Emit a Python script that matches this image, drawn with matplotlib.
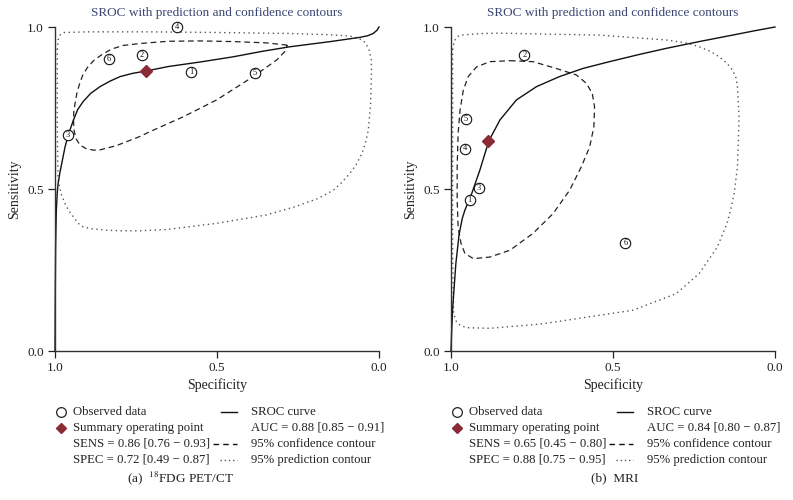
import matplotlib
matplotlib.use("Agg")
import matplotlib.pyplot as plt
from matplotlib.lines import Line2D

plt.rcParams["font.family"] = ["Liberation Serif", "DejaVu Serif"]
plt.rcParams["mathtext.fontset"] = "stix"

# -----------------------------
# Panel (a) 18FDG PET/CT
# -----------------------------
a_study = ["1", "2", "3", "4", "5", "6"]
a_obs_spec = [0.580, 0.731, 0.960, 0.623, 0.383, 0.833]
a_obs_sens = [0.861, 0.914, 0.667, 1.000, 0.858, 0.901]
a_sum_spec = [0.72]
a_sum_sens = [0.864]

a_sroc_spec = [1.0, 0.999, 0.998, 0.996, 0.993, 0.990, 0.985, 0.977, 0.969, 0.959,
               0.950, 0.943, 0.930, 0.913, 0.890, 0.861, 0.830, 0.799, 0.760, 0.72,
               0.65, 0.552, 0.45, 0.36, 0.275, 0.15, 0.059, 0.035, 0.018, 0.006, 0.0]
a_sroc_sens = [0.0, 0.20, 0.33, 0.43, 0.49, 0.52, 0.55, 0.59, 0.63, 0.667,
               0.693, 0.713, 0.745, 0.77, 0.795, 0.816, 0.833, 0.847, 0.857, 0.864,
               0.878, 0.892, 0.908, 0.925, 0.939, 0.955, 0.968, 0.973, 0.980, 0.99, 1.0]

a_conf_spec = [0.283, 0.347, 0.45, 0.552, 0.65, 0.738, 0.79, 0.825, 0.855, 0.880, 0.900,
               0.915, 0.925, 0.933, 0.938, 0.942, 0.943, 0.941, 0.935, 0.923, 0.905,
               0.882, 0.86, 0.81, 0.738, 0.707, 0.604, 0.501, 0.388, 0.316, 0.29, 0.283]
a_conf_sens = [0.944, 0.951, 0.955, 0.957, 0.956, 0.949, 0.943, 0.932, 0.915, 0.897, 0.875,
               0.850, 0.822, 0.793, 0.765, 0.738, 0.713, 0.68, 0.655, 0.636, 0.625,
               0.620, 0.621, 0.634, 0.662, 0.677, 0.723, 0.775, 0.847, 0.898, 0.925, 0.944]

a_pred_spec = [0.993, 0.990, 0.983, 0.972, 0.9, 0.7, 0.5, 0.275, 0.15, 0.09, 0.062, 0.042,
               0.03, 0.024, 0.023, 0.026, 0.033, 0.042, 0.053, 0.07, 0.09, 0.115, 0.141,
               0.19, 0.26, 0.347, 0.501, 0.655, 0.738, 0.80, 0.841, 0.885, 0.913, 0.930,
               0.943, 0.958, 0.969, 0.980, 0.986, 0.991, 0.993, 0.993]
a_pred_sens = [0.93, 0.962, 0.977, 0.983, 0.985, 0.985, 0.983, 0.98, 0.976, 0.972, 0.965,
               0.952, 0.928, 0.90, 0.866, 0.763, 0.681, 0.642, 0.609, 0.576, 0.548, 0.52,
               0.496, 0.47, 0.445, 0.42, 0.394, 0.375, 0.371, 0.371, 0.373, 0.377, 0.383,
               0.395, 0.414, 0.434, 0.455, 0.482, 0.507, 0.54, 0.70, 0.93]

# -----------------------------
# Panel (b) MRI
# -----------------------------
b_study = ["1", "2", "3", "4", "5", "6"]
b_obs_spec = [0.942, 0.774, 0.915, 0.957, 0.954, 0.462]
b_obs_sens = [0.466, 0.913, 0.502, 0.625, 0.716, 0.334]
b_sum_spec = [0.885]
b_sum_sens = [0.648]

b_sroc_spec = [1.0, 0.998, 0.995, 0.990, 0.985, 0.975, 0.965, 0.957, 0.936, 0.911,
               0.883, 0.849, 0.798, 0.736, 0.665, 0.593, 0.511, 0.42, 0.336, 0.234,
               0.131, 0.065, 0.0]
b_sroc_sens = [0.0, 0.06, 0.13, 0.20, 0.27, 0.36, 0.41, 0.435, 0.486, 0.558,
               0.649, 0.713, 0.775, 0.816, 0.847, 0.872, 0.893, 0.915, 0.934, 0.955,
               0.975, 0.988, 1.0]

b_conf_spec = [0.818, 0.747, 0.675, 0.613, 0.582, 0.564, 0.557, 0.559, 0.572, 0.598,
               0.634, 0.685, 0.747, 0.818, 0.88, 0.931, 0.957, 0.969, 0.978, 0.981,
               0.981, 0.978, 0.972, 0.962, 0.947, 0.921, 0.88, 0.818]
b_conf_sens = [0.896, 0.893, 0.872, 0.852, 0.826, 0.795, 0.754, 0.692, 0.630, 0.568,
               0.496, 0.424, 0.363, 0.311, 0.29, 0.285, 0.301, 0.332, 0.383, 0.466,
               0.568, 0.672, 0.744, 0.805, 0.847, 0.877, 0.893, 0.896]

b_pred_spec = [0.995, 0.99, 0.983, 0.972, 0.9, 0.849, 0.7, 0.542, 0.336, 0.27, 0.234,
               0.2, 0.172, 0.148, 0.131, 0.120, 0.116, 0.111, 0.113, 0.116, 0.126,
               0.136, 0.148, 0.178, 0.234, 0.305, 0.438, 0.643, 0.726, 0.798, 0.88,
               0.951, 0.970, 0.983, 0.992, 0.995, 0.995, 0.995]
b_pred_sens = [0.93, 0.955, 0.968, 0.975, 0.98, 0.981, 0.978, 0.975, 0.96, 0.95, 0.939,
               0.925, 0.908, 0.888, 0.867, 0.842, 0.816, 0.723, 0.65, 0.568, 0.486,
               0.44, 0.394, 0.321, 0.239, 0.177, 0.126, 0.095, 0.083, 0.077, 0.07,
               0.072, 0.078, 0.09, 0.116, 0.3, 0.6, 0.93]

# legend texts
a_legend = ["SENS = 0.86 [0.76 \u2212 0.93]", "SPEC = 0.72 [0.49 \u2212 0.87]",
            "AUC = 0.88 [0.85 \u2212 0.91]"]
b_legend = ["SENS = 0.65 [0.45 \u2212 0.80]", "SPEC = 0.88 [0.75 \u2212 0.95]",
            "AUC = 0.84 [0.80 \u2212 0.87]"]

TITLE = "SROC with prediction and confidence contours"
TITLE_COLOR = "#3b4672"
SUM_COLOR = "#8a2c36"
DOT_COLOR = "#555555"

W, H = 793, 500
fig = plt.figure(figsize=(W / 100, H / 100), dpi=100)


def fx(px):
    return px / W


def fy(py):
    return 1 - py / H


def draw_panel(left_px, study, obs_spec, obs_sens, sum_spec, sum_sens,
               sroc_spec, sroc_sens, conf_spec, conf_sens, pred_spec, pred_sens,
               legend, caption, caption_x):
    ax = fig.add_axes([fx(left_px), fy(351), 324 / W, 324 / H])
    ax.set_xlim(1, 0)
    ax.set_ylim(0, 1)
    ax.patch.set_alpha(0)
    for s in ["top", "right"]:
        ax.spines[s].set_visible(False)
    for s in ["left", "bottom"]:
        ax.spines[s].set_color("#333333")
        ax.spines[s].set_linewidth(1.0)
    ax.set_xticks([1.0, 0.5, 0.0])
    ax.set_yticks([0.0, 0.5, 1.0])
    ax.set_xticklabels(["1.0", "0.5", "0.0"])
    ax.set_yticklabels(["0.0", "0.5", "1.0"])
    ax.tick_params(direction="out", length=5, width=0.9, labelsize=9.5,
                   colors="#222222", pad=3)

    ax.plot(pred_spec, pred_sens, color=DOT_COLOR, lw=1.0, dashes=(1, 2.5),
            clip_on=False)
    ax.plot(conf_spec, conf_sens, color="#222222", lw=0.9, dashes=(4.5, 3),
            clip_on=False)
    ax.plot(sroc_spec, sroc_sens, color="#111111", lw=1.0, clip_on=False)

    ax.plot(obs_spec, obs_sens, linestyle="none", marker="o", markersize=7.5,
            markerfacecolor="white", markeredgecolor="#111111",
            markeredgewidth=0.8, clip_on=False, zorder=4)
    for lab, x, y in zip(study, obs_spec, obs_sens):
        ax.text(x, y, lab, ha="center", va="center", fontsize=6,
                color="#111111", zorder=5)
    ax.plot(sum_spec, sum_sens, linestyle="none", marker="D", markersize=6,
            color=SUM_COLOR, zorder=6, clip_on=False)

    ax.set_xlabel("Specificity", fontsize=10, color="#222222")
    ax.set_ylabel("Sensitivity", fontsize=10, color="#222222")
    ax.xaxis.set_label_coords(0.5, -0.085)
    ax.yaxis.set_label_coords(-0.105, 0.5)

    cx = left_px + 162
    fig.text(fx(cx), fy(13), TITLE, ha="center", va="center", fontsize=9.5,
             color=TITLE_COLOR)

    # legend block
    mx = left_px + 6
    tx = left_px + 18
    lx0, lx1 = left_px + 162, left_px + 182
    rx = left_px + 196
    rows = [412, 428, 444, 460]
    fs = 9.2
    fig.add_artist(Line2D([fx(mx)], [fy(rows[0])], marker="o", markersize=7,
                          markerfacecolor="white", markeredgecolor="#222222",
                          markeredgewidth=0.9, linestyle="none",
                          transform=fig.transFigure))
    fig.add_artist(Line2D([fx(mx)], [fy(rows[1])], marker="D", markersize=5,
                          color=SUM_COLOR, linestyle="none",
                          transform=fig.transFigure))
    fig.text(fx(tx), fy(rows[0]), "Observed data", fontsize=fs, va="center",
             color="#222222")
    fig.text(fx(tx), fy(rows[1]), "Summary operating point", fontsize=fs,
             va="center", color="#222222")
    fig.text(fx(tx), fy(rows[2]), legend[0], fontsize=fs, va="center",
             color="#222222")
    fig.text(fx(tx), fy(rows[3]), legend[1], fontsize=fs, va="center",
             color="#222222")

    fig.add_artist(Line2D([fx(lx0 + 4), fx(lx1)], [fy(rows[0])] * 2,
                          color="#111111", lw=1.0, transform=fig.transFigure))
    fig.add_artist(Line2D([fx(lx0 - 4), fx(lx1)], [fy(rows[2])] * 2,
                          color="#111111", lw=1.0, dashes=(4, 3),
                          transform=fig.transFigure))
    fig.add_artist(Line2D([fx(lx0 + 3), fx(lx1)], [fy(rows[3])] * 2,
                          color=DOT_COLOR, lw=1.0, dashes=(1, 2),
                          transform=fig.transFigure))
    fig.text(fx(rx), fy(rows[0]), "SROC curve", fontsize=fs, va="center",
             color="#222222")
    fig.text(fx(rx), fy(rows[1]), legend[2], fontsize=fs, va="center",
             color="#222222")
    fig.text(fx(rx), fy(rows[2]), "95% confidence contour", fontsize=fs,
             va="center", color="#222222")
    fig.text(fx(rx), fy(rows[3]), "95% prediction contour", fontsize=fs,
             va="center", color="#222222")

    fig.text(fx(caption_x), fy(478), caption, ha="center", va="center",
             fontsize=9.5, color="#222222")


draw_panel(55, a_study, a_obs_spec, a_obs_sens, a_sum_spec, a_sum_sens,
           a_sroc_spec, a_sroc_sens, a_conf_spec, a_conf_sens,
           a_pred_spec, a_pred_sens, a_legend, r"(a)  $^{18}$FDG PET/CT", 181)
draw_panel(451, b_study, b_obs_spec, b_obs_sens, b_sum_spec, b_sum_sens,
           b_sroc_spec, b_sroc_sens, b_conf_spec, b_conf_sens,
           b_pred_spec, b_pred_sens, b_legend, "(b)  MRI", 615)

fig.savefig("out.png", dpi=100)
